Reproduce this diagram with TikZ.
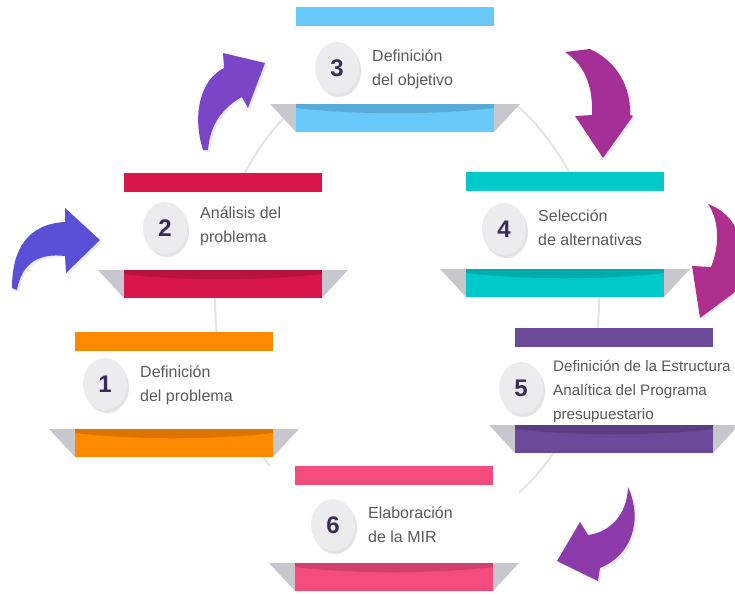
\documentclass[tikz,border=0pt]{standalone}
\usepackage{fontspec}
\setmainfont{Liberation Sans}
\usepackage{xcolor}
\usepackage{tikz}
\usetikzlibrary{shapes.geometric, arrows.meta, positioning, calc, shadows}

\definecolor{ringgray}{HTML}{E4E4E7}
\definecolor{winggray}{HTML}{C9C7CE}
\definecolor{txtgray}{HTML}{5A5A5A}
\definecolor{numpurple}{HTML}{3B2A5C}
\definecolor{badgegray}{HTML}{ECECEF}
\definecolor{cOrange}{HTML}{FF8A00}
\definecolor{cCrimson}{HTML}{D9164C}
\definecolor{cSky}{HTML}{68C9FA}
\definecolor{cTeal}{HTML}{00C9C9}
\definecolor{cViolet}{HTML}{6B4A97}
\definecolor{cPink}{HTML}{F44C7D}
\definecolor{arBlue}{HTML}{5A50D8}
\definecolor{arPurple}{HTML}{7A45C6}
\definecolor{arMagenta}{HTML}{A32F97}
\definecolor{arBerry}{HTML}{AE2F8D}
\definecolor{arPlum}{HTML}{8D3BAA}

\begin{document}
\begin{tikzpicture}[
    x=1pt, y=-1pt,
    badge/.style={ellipse, fill=badgegray, minimum width=44pt, minimum height=52pt, inner sep=0pt, font=\fontsize{24}{24}\selectfont\bfseries, text=numpurple, drop shadow={opacity=0.22, shadow xshift=2pt, shadow yshift=-3pt}},
    txt/.style={anchor=west, inner sep=0pt, align=left, text=txtgray, font=\fontsize{16}{24}\selectfont},
    curl/.style={fill=#1, drop shadow={opacity=0.15, shadow xshift=2pt, shadow yshift=-2pt}}
]

\useasboundingbox (0,0) rectangle (735,594);
\clip (0,0) rectangle (735,594);

% anillo de fondo
\draw[ringgray, line width=2pt] (407,300) ellipse [x radius=192, y radius=237];

% tarjetas
\foreach \cx/\ty/\col in {174/332/cOrange, 223/173/cCrimson, 395/7/cSky, 565/172/cTeal, 614/328/cViolet, 394/466/cPink} {
    \fill[white] (\cx-125,\ty) rectangle (\cx+125,\ty+97);
    \fill[winggray] (\cx-125,\ty+97) -- (\cx+125,\ty+97) -- (\cx+99,\ty+125) -- (\cx-99,\ty+125) -- cycle;
    \fill[\col] (\cx-99,\ty+97) rectangle (\cx+99,\ty+125);
    \fill[black, opacity=0.15] (\cx-99,\ty+97) -- (\cx+99,\ty+97) -- (\cx+99,\ty+101) .. controls (\cx+40,\ty+108) and (\cx-40,\ty+108) .. (\cx-99,\ty+101) -- cycle;
    \fill[\col] (\cx-99,\ty) rectangle (\cx+99,\ty+19);
}

% insignias numeradas
\node[badge] (b1) at (105,384) {1};
\node[badge] (b2) at (165,228) {2};
\node[badge] (b3) at (337,68) {3};
\node[badge] (b4) at (504,229) {4};
\node[badge] (b5) at (521,388) {5};
\node[badge] (b6) at (333,525) {6};

% textos de los pasos
\node[txt] (t1) at (140,385) {Definición\\del problema};
\node[txt] (t2) at (200,226) {Análisis del\\problema};
\node[txt] (t3) at (372,69) {Definición\\del objetivo};
\node[txt] (t4) at (538,228) {Selección\\de alternativas};
\node[txt, font=\fontsize{15.2}{24}\selectfont] (t5) at (553,391) {Definición de la Estructura\\Analítica del Programa\\presupuestario};
\node[txt] (t6) at (368,525) {Elaboración\\de la MIR};

% flechas curvas
\fill[curl=arBlue] (12,288) .. controls (12,250) and (27,224) .. (65,222) -- (65,208) -- (100,240) -- (66,273) -- (65,256) .. controls (40,253) and (22,262) .. (17,290) -- cycle;
\fill[curl=arPurple] (203,150) .. controls (192,115) and (200,80) .. (224,68) -- (223,53) -- (265,63) -- (248,108) -- (242,97) .. controls (222,108) and (210,125) .. (208,150) -- cycle;
\fill[curl=arMagenta] (565,52) -- (590,49) .. controls (618,62) and (631,88) .. (630,115) -- (633,116) -- (603,158) -- (575,116) -- (592,115) .. controls (593,88) and (586,66) .. (565,52) -- cycle;
\fill[curl=arBerry] (708,204) .. controls (735,214) and (746,240) .. (741,272) -- (750,281) -- (700,318) -- (692,266) -- (711,267) .. controls (720,245) and (719,220) .. (708,204) -- cycle;
\fill[curl=arPlum] (628,487) .. controls (643,520) and (632,555) .. (600,568) -- (598,581) -- (557,561) -- (580,522) -- (588,535) .. controls (610,532) and (627,515) .. (628,487) -- cycle;

\end{tikzpicture}
\end{document}
